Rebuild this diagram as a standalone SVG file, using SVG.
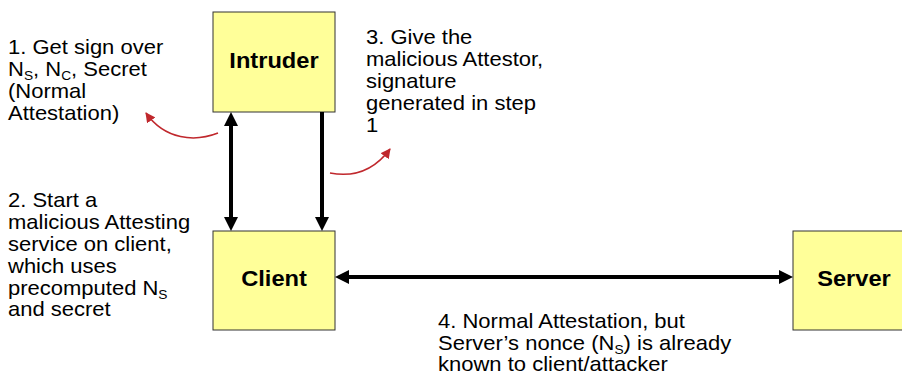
<svg xmlns="http://www.w3.org/2000/svg" width="902" height="377" viewBox="0 0 902 377">
<defs>
<style>
.box{fill:#FFFF99;stroke:#333;stroke-width:1}
.lbl{font-family:"Liberation Sans",Arial,sans-serif;font-size:21.5px;font-weight:bold;fill:#000;text-anchor:middle}
.t{font-family:"Liberation Sans",Arial,sans-serif;font-size:20px;fill:#000}
.sub{font-size:12.5px}
.blk{fill:none;stroke:#000;stroke-width:4}
.red{fill:none;stroke:#C0282D;stroke-width:1.5}
</style>
<marker id="ah" viewBox="0 0 14 14" refX="8" refY="7" markerWidth="14" markerHeight="14" markerUnits="userSpaceOnUse" orient="auto-start-reverse">
<path d="M0,0 L14,7 L0,14 z" fill="#000"/>
</marker>
<marker id="rh" viewBox="0 0 10 10" refX="9" refY="5" markerWidth="10" markerHeight="10" markerUnits="userSpaceOnUse" orient="auto">
<path d="M0,0 L10,5 L0,10 z" fill="#C0282D"/>
</marker>
</defs>
<rect width="902" height="377" fill="#fff"/>

<g id="intruder">
<rect class="box" x="213" y="12" width="122" height="100"/>
<g transform="translate(274,0) scale(1.1,1)"><text class="lbl" x="0" y="68">Intruder</text></g>
</g>
<g id="client">
<rect class="box" x="213" y="231" width="122" height="99"/>
<g transform="translate(274,0) scale(1.1,1)"><text class="lbl" x="0" y="286">Client</text></g>
</g>
<g id="server">
<rect class="box" x="793" y="231" width="122" height="99"/>
<g transform="translate(854,0) scale(1.1,1)"><text class="lbl" x="0" y="286">Server</text></g>
</g>

<g id="connectors">
<line class="blk" x1="231" y1="118" x2="231" y2="225" marker-start="url(#ah)" marker-end="url(#ah)"/>
<line class="blk" x1="322" y1="112" x2="322" y2="225" marker-end="url(#ah)"/>
<line class="blk" x1="341" y1="277" x2="787" y2="277" marker-start="url(#ah)" marker-end="url(#ah)"/>
<path class="red" d="M218,133 C195,142 165,140 146,113" marker-end="url(#rh)"/>
<path class="red" d="M330,173 C356,178 376,168 390,149" marker-end="url(#rh)"/>
</g>

<g id="note1" transform="translate(8,0) scale(1.1,1)">
<text class="t">
<tspan x="0" y="54">1. Get sign over</tspan>
<tspan x="0" y="76">N<tspan class="sub" dy="4">S</tspan><tspan dy="-4">, N</tspan><tspan class="sub" dy="4">C</tspan><tspan dy="-4">, Secret</tspan></tspan>
<tspan x="0" y="98">(Normal</tspan>
<tspan x="0" y="120">Attestation)</tspan>
</text>
</g>
<g id="note2" transform="translate(8,0) scale(1.1,1)">
<text class="t">
<tspan x="0" y="207">2. Start a</tspan>
<tspan x="0" y="229">malicious Attesting</tspan>
<tspan x="0" y="251">service on client,</tspan>
<tspan x="0" y="273">which uses</tspan>
<tspan x="0" y="295">precomputed N<tspan class="sub" dy="4">S</tspan></tspan>
<tspan x="0" y="316">and secret</tspan>
</text>
</g>
<g id="note3" transform="translate(366,0) scale(1.1,1)">
<text class="t">
<tspan x="0" y="44">3. Give the</tspan>
<tspan x="0" y="66">malicious Attestor,</tspan>
<tspan x="0" y="88">signature</tspan>
<tspan x="0" y="110">generated in step</tspan>
<tspan x="0" y="132">1</tspan>
</text>
</g>
<g id="note4" transform="translate(438,0) scale(1.1,1)">
<text class="t">
<tspan x="0" y="328">4. Normal Attestation, but</tspan>
<tspan x="0" y="350">Server’s nonce (N<tspan class="sub" dy="4">S</tspan><tspan dy="-4">) is already</tspan></tspan>
<tspan x="0" y="371">known to client/attacker</tspan>
</text>
</g>
</svg>
